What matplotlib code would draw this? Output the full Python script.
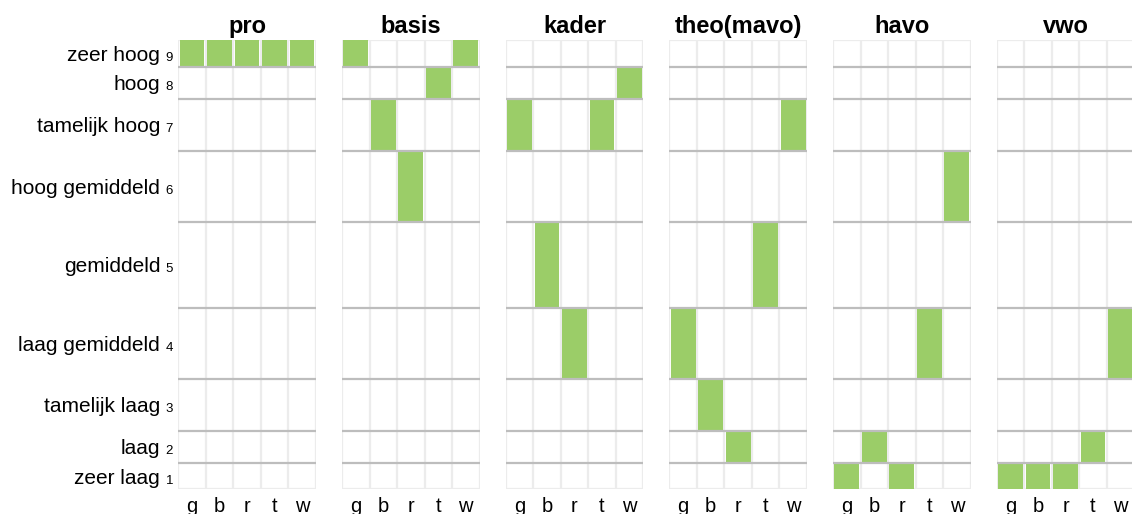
import numpy as np
import matplotlib
matplotlib.use("Agg")
import matplotlib.pyplot as plt

plt.rcParams["font.family"] = ["Liberation Sans", "DejaVu Sans"]

# data
groups = ["pro", "basis", "kader", "theo(mavo)", "havo", "vwo"]
subjects = ["g", "b", "r", "t", "w"]
levels = [1, 2, 3, 4, 5, 6, 7, 8, 9]
level_names = ["zeer laag", "laag", "tamelijk laag", "laag gemiddeld", "gemiddeld",
               "hoog gemiddeld", "tamelijk hoog", "hoog", "zeer hoog"]
# relative row heights, bottom (1) to top (9)
row_heights = [26, 32, 52, 71.5, 86, 71, 51.5, 32.5, 26.5]

score_pro = [9, 9, 9, 9, 9]
score_basis = [9, 7, 6, 8, 9]
score_kader = [7, 5, 4, 7, 8]
score_theo = [4, 3, 2, 5, 7]
score_havo = [1, 2, 1, 4, 6]
score_vwo = [1, 1, 1, 2, 4]
scores = [score_pro, score_basis, score_kader, score_theo, score_havo, score_vwo]

green = "#9bcd68"
light = "#ececec"
dark = "#bdbdbd"

W, H = 1132, 514
fig = plt.figure(figsize=(W / 100, H / 100), dpi=100)

edges = np.concatenate([[0], np.cumsum(row_heights)])
bottoms = edges[:-1]
centers = (edges[:-1] + edges[1:]) / 2
total = edges[-1]

x0, step, pw = 178.3, 163.7, 137.5
top_px, bot_px = 40, 489

for i, (name, vals) in enumerate(zip(groups, scores)):
    left = x0 + i * step
    ax = fig.add_axes([left / W, 1 - bot_px / H, pw / W, (bot_px - top_px) / H])
    ax.set_xlim(0, len(subjects))
    ax.set_ylim(0, total)
    for s in ax.spines.values():
        s.set_visible(False)

    for x in range(len(subjects) + 1):
        ax.axvline(x, color=light, lw=1.6, zorder=1)
    ax.axhline(0, color=light, lw=1.6, zorder=1)
    ax.axhline(total, color=light, lw=1.6, zorder=1)

    xs = np.arange(len(subjects)) + 0.5
    idx = [levels.index(v) for v in vals]
    ax.bar(xs, [row_heights[k] for k in idx], bottom=[bottoms[k] for k in idx],
           width=0.9, color=green, zorder=2)

    for e in edges[1:-1]:
        ax.axhline(e, color=dark, lw=1.6, zorder=3)

    ax.set_xticks(xs)
    ax.set_xticklabels(subjects, fontsize=14.5)
    ax.tick_params(axis="x", length=0, pad=6)
    ax.set_yticks([])
    ax.set_title(name, fontsize=17, fontweight="bold", pad=5)

    if i == 0:
        for lv, nm, c in zip(levels, level_names, centers):
            ax.annotate(str(lv), xy=(0, c), xycoords=("axes fraction", "data"),
                        xytext=(-3.8, -5.4), textcoords="offset points",
                        ha="right", va="baseline", fontsize=9.5)
            ax.annotate(nm, xy=(0, c), xycoords=("axes fraction", "data"),
                        xytext=(-13, -5.4), textcoords="offset points",
                        ha="right", va="baseline", fontsize=15)

fig.savefig("out.png", dpi=100)
